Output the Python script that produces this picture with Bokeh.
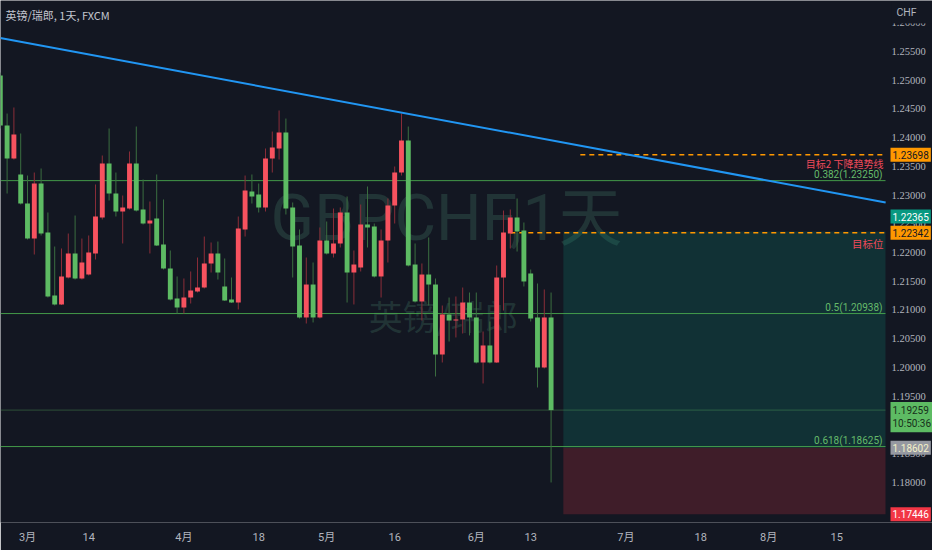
from bokeh.plotting import figure
from bokeh.models import Range1d, FixedTicker, Label, LabelSet, ColumnDataSource
from bokeh.embed import file_html
from bokeh.resources import INLINE

# ---- GBP/CHF daily candles; bar index 0 = 1 March ----
bar_index = list(range(-4, 78))
opens = [1.25078, 1.24209, 1.23635, 1.23357, 1.22852, 1.22243, 1.23200, 1.22348, 1.21252, 1.21096,
         1.21565, 1.21983, 1.21548, 1.21617, 1.21983, 1.22609, 1.23548, 1.23026, 1.22713, 1.22765,
         1.23548, 1.22748, 1.22504, 1.22591, 1.22139, 1.21722, 1.21200, 1.21043, 1.21217, 1.21322,
         1.21391, 1.21809, 1.21983, 1.21409, 1.21183, 1.21130, 1.22400, 1.23061, 1.23009, 1.22783,
         1.23635, 1.23809, 1.24087, 1.22783, 1.22122, 1.20870, 1.21443, 1.20870, 1.22209, 1.21983,
         1.22157, 1.22696, 1.21652, 1.21739, 1.22487, 1.22452, 1.21583, 1.22209, 1.22817, 1.23391,
         1.23948, 1.21791, 1.21148, 1.21617, 1.21443, 1.20226, 1.20922, 1.20817, 1.20835, 1.21130,
         1.20870, 1.20087, 1.20383, 1.20087, 1.21565, 1.22330, 1.22609, 1.22383, 1.21635, 1.20870,
         1.20000, 1.20870]
highs = [1.25130, 1.24417, 1.24522, 1.24070, 1.23339, 1.23391, 1.23461, 1.22696, 1.22104, 1.22070,
         1.22330, 1.22643, 1.22243, 1.22296, 1.23183, 1.23687, 1.24157, 1.23391, 1.22991, 1.23757,
         1.24191, 1.23270, 1.22887, 1.23357, 1.22922, 1.22035, 1.21583, 1.21548, 1.21670, 1.21913,
         1.22278, 1.22174, 1.22191, 1.21896, 1.21565, 1.22626, 1.23339, 1.23357, 1.23200, 1.23809,
         1.24104, 1.24470, 1.24330, 1.22870, 1.22400, 1.21913, 1.21826, 1.22435, 1.22539, 1.22765,
         1.22783, 1.22974, 1.22035, 1.22835, 1.23148, 1.22504, 1.22400, 1.22939, 1.23496, 1.24417,
         1.24191, 1.22157, 1.21809, 1.22261, 1.21548, 1.21078, 1.21217, 1.21235, 1.21391, 1.21304,
         1.21304, 1.20626, 1.20800, 1.21774, 1.22730, 1.22748, 1.22939, 1.22522, 1.21704, 1.21461,
         1.21357, 1.21304]
lows = [1.24157, 1.23026, 1.23617, 1.22835, 1.22226, 1.21965, 1.22296, 1.21217, 1.21078, 1.21087,
        1.21548, 1.21530, 1.21530, 1.21600, 1.21878, 1.22574, 1.22904, 1.22626, 1.22157, 1.22748,
        1.22713, 1.22487, 1.21983, 1.22113, 1.21704, 1.21165, 1.20939, 1.20939, 1.21113, 1.21304,
        1.21374, 1.21652, 1.21530, 1.21157, 1.21122, 1.21009, 1.22278, 1.22852, 1.22696, 1.22713,
        1.23391, 1.23617, 1.22661, 1.21565, 1.20852, 1.20765, 1.20783, 1.20852, 1.21965, 1.21913,
        1.22087, 1.21130, 1.21096, 1.21670, 1.22087, 1.21565, 1.21217, 1.21826, 1.22504, 1.23339,
        1.21757, 1.21130, 1.20817, 1.21078, 1.19843, 1.20087, 1.20452, 1.20522, 1.20591, 1.20557,
        1.20070, 1.19722, 1.20070, 1.20078, 1.20991, 1.22070, 1.22017, 1.21409, 1.20800, 1.19652,
        1.19983, 1.18000]
closes = [1.24209, 1.23635, 1.24052, 1.22852, 1.22243, 1.23200, 1.22330, 1.21235, 1.21096, 1.21583,
          1.21983, 1.21548, 1.21826, 1.22000, 1.22626, 1.23548, 1.23026, 1.22713, 1.22783, 1.23548,
          1.22730, 1.22504, 1.22557, 1.22122, 1.21722, 1.21183, 1.21043, 1.21217, 1.21339, 1.21391,
          1.21809, 1.21983, 1.21652, 1.21165, 1.21130, 1.22417, 1.23078, 1.22974, 1.22783, 1.23635,
          1.23826, 1.24087, 1.22765, 1.22104, 1.20870, 1.21443, 1.20870, 1.22209, 1.21983, 1.22157,
          1.22696, 1.21652, 1.21791, 1.22487, 1.22435, 1.21583, 1.22209, 1.22817, 1.23391, 1.23948,
          1.21774, 1.21148, 1.21617, 1.21443, 1.20226, 1.20922, 1.20817, 1.20835, 1.21130, 1.20870,
          1.20087, 1.20383, 1.20087, 1.21565, 1.22348, 1.22609, 1.22365, 1.21496, 1.20852, 1.20000,
          1.20870, 1.19259]

# ---- axes ----
date_ticks = [0, 9, 23, 34, 44, 54, 66, 74, 88, 99, 109, 119]
date_labels = ["3月", "14", "4月", "18", "5月", "16", "6月", "13", "7月", "18", "8月", "15"]
price_ticks = [1.175, 1.180, 1.185, 1.190, 1.195, 1.200, 1.205, 1.210, 1.215, 1.220,
               1.225, 1.230, 1.235, 1.240, 1.245, 1.250, 1.255, 1.260]
currency = "CHF"

# ---- drawings ----
trend_x = [-4.0, 126.2]
trend_y = [1.25730, 1.22870]
fib_ratios = [0.382, 0.5, 0.618]
fib_levels = [1.23250, 1.20938, 1.18625]
target_levels = [1.23698, 1.22342]
target_start = [81.3, 71.0]
target_texts = ["目标2 下降趋势线", "目标位"]
position_start = 78.8
take_profit = 1.22365
entry_price = 1.18602
stop_loss = 1.17446
last_price = 1.19259
countdown = "10:50:36"

# ---- layout: chart pane on the left, price scale strip on the right ----
X_START, SCALE_START, X_END = -3.97, 126.18, 133.09
SCALE_TEXT_X = 891          # screen x of price scale text
TAG_TEXT_X = 890            # screen x of price tag text

BG = "#131722"
AXIS_TXT = "#b2b5be"
UP = "#f7525f"
DOWN = "#5dbb63"
UP_WICK = "#8a2d39"
DOWN_WICK = "#3b6e40"
SANS = "Roboto, 'Noto Sans CJK SC', sans-serif"
CJK = "'Noto Sans CJK SC', sans-serif"

p = figure(width=932, height=550, output_backend="svg", toolbar_location=None,
           y_axis_location=None,
           x_range=Range1d(X_START, X_END), y_range=Range1d(1.17304, 1.26383),
           min_border_left=0, min_border_top=0, min_border_right=0, min_border_bottom=28,
           background_fill_color=BG, border_fill_color=BG, outline_line_color=None)
p.xgrid.grid_line_color = None
p.ygrid.grid_line_color = None

xa = p.xaxis[0]
xa.axis_line_color = None
xa.major_tick_line_color = None
xa.minor_tick_line_color = None
xa.major_label_text_color = AXIS_TXT
xa.major_label_text_font = SANS
xa.major_label_text_font_size = "11px"
xa.major_label_standoff = 2
xa.ticker = FixedTicker(ticks=date_ticks)
xa.major_label_overrides = {t: s for t, s in zip(date_ticks, date_labels)}

# ---- watermark ----
p.add_layout(Label(x=446, y=304, x_units="screen", y_units="screen", text="GBPCHF,1天",
                   text_font=SANS, text_font_size="64px", text_color="#3d6b5c", text_alpha=0.35,
                   text_align="center", text_baseline="middle", level="underlay"))
p.add_layout(Label(x=443, y=207, x_units="screen", y_units="screen", text="英镑/瑞郎",
                   text_font=CJK, text_font_size="34px", text_color="#3d6b5c", text_alpha=0.35,
                   text_align="center", text_baseline="middle", level="underlay"))

# ---- long position zones ----
p.quad(left=[position_start], right=[SCALE_START], top=[take_profit], bottom=[entry_price],
       fill_color="#089981", fill_alpha=0.2, line_color=None)
p.quad(left=[position_start], right=[SCALE_START], top=[entry_price], bottom=[stop_loss],
       fill_color="#f23645", fill_alpha=0.2, line_color=None)

# ---- fibonacci levels and last price line ----
n_fib = len(fib_levels)
p.segment(x0=[X_START] * n_fib, x1=[SCALE_START] * n_fib, y0=fib_levels, y1=fib_levels,
          line_color="#4caf50", line_width=1, line_alpha=0.85)
p.segment(x0=[X_START], x1=[SCALE_START], y0=[last_price], y1=[last_price],
          line_color=DOWN, line_width=1, line_alpha=0.35)

# ---- target lines ----
p.segment(x0=target_start, x1=[SCALE_START] * 2, y0=target_levels, y1=target_levels,
          line_color="#ff9800", line_width=1.5, line_dash="5 4")

# ---- candles ----
body_top = [max(o, c) for o, c in zip(opens, closes)]
body_bot = [min(o, c) for o, c in zip(opens, closes)]
rising = [c >= o for o, c in zip(opens, closes)]
src = ColumnDataSource(dict(
    x=bar_index, top=body_top, bottom=body_bot, high=highs, low=lows,
    color=[UP if r else DOWN for r in rising],
    wick=[UP_WICK if r else DOWN_WICK for r in rising],
))
p.segment(x0="x", x1="x", y0="high", y1="low", line_color="wick", line_width=1, source=src)
p.vbar(x="x", width=0.72, top="top", bottom="bottom", fill_color="color", line_color=None, source=src)

# ---- trend line ----
p.line(trend_x, trend_y, line_color="#2196f3", line_width=2)

# ---- drawing texts ----
for ratio, lvl in zip(fib_ratios, fib_levels):
    p.add_layout(Label(x=882, y=lvl, x_units="screen", y_units="data", y_offset=1,
                       text=f"{ratio}({lvl:.5f})", text_font=SANS, text_font_size="10px",
                       text_color="#66bb6a", text_align="right", text_baseline="bottom"))
for lvl, txt, off, fs in zip(target_levels, target_texts, [-9, -11], ["10px", "10.5px"]):
    p.add_layout(Label(x=883, y=lvl, x_units="screen", y_units="data", y_offset=off,
                       text=txt, text_font=CJK, text_font_size=fs,
                       text_color="#ef4a5a", text_align="right", text_baseline="middle"))

# ---- header ----
p.add_layout(Label(x=5, y=508, x_units="screen", y_units="screen", text="英镑/瑞郎, 1天, FXCM",
                   text_font=CJK, text_font_size="11px", text_color="#c3c6ce",
                   text_align="left", text_baseline="middle"))

# ---- price scale ----
scale_src = ColumnDataSource(dict(y=price_ticks, text=[f"{t:.5f}" for t in price_ticks]))
p.add_layout(LabelSet(x=SCALE_TEXT_X, y="y", text="text", x_units="screen", y_units="data",
                      source=scale_src, text_font=SANS, text_font_size="10.5px",
                      text_color=AXIS_TXT, text_align="left", text_baseline="middle"))
p.add_layout(Label(x=SCALE_TEXT_X, y=510, x_units="screen", y_units="screen", text=currency,
                   text_font=SANS, text_font_size="10.5px", text_color=AXIS_TXT,
                   text_align="left", text_baseline="middle",
                   background_fill_color=BG, padding=(5, 22, 4, 5), level="overlay"))


def tag(price, text, bg, fg, yoff=0):
    p.add_layout(Label(x=TAG_TEXT_X, y=price, x_units="screen", y_units="data", y_offset=yoff,
                       text=text, text_font=SANS, text_font_size="10px", text_color=fg,
                       text_align="left", text_baseline="middle",
                       background_fill_color=bg, padding=(2, 3), level="overlay"))


tag(target_levels[0], f"{target_levels[0]:.5f}", "#ff9800", "#131722")
tag(take_profit, f"{take_profit:.5f}", "#089981", "#ffffff", yoff=15)
tag(target_levels[1], f"{target_levels[1]:.5f}", "#ff9800", "#131722")
tag(last_price, f"{last_price:.5f}\n{countdown}", "#5dbb63", "#16301a", yoff=-7)
tag(entry_price, f"{entry_price:.5f}", "#9598a1", "#f4f1c8")
tag(stop_loss, f"{stop_loss:.5f}", "#f23645", "#ffffff")

open("out.html", "w").write(file_html(p, INLINE))
